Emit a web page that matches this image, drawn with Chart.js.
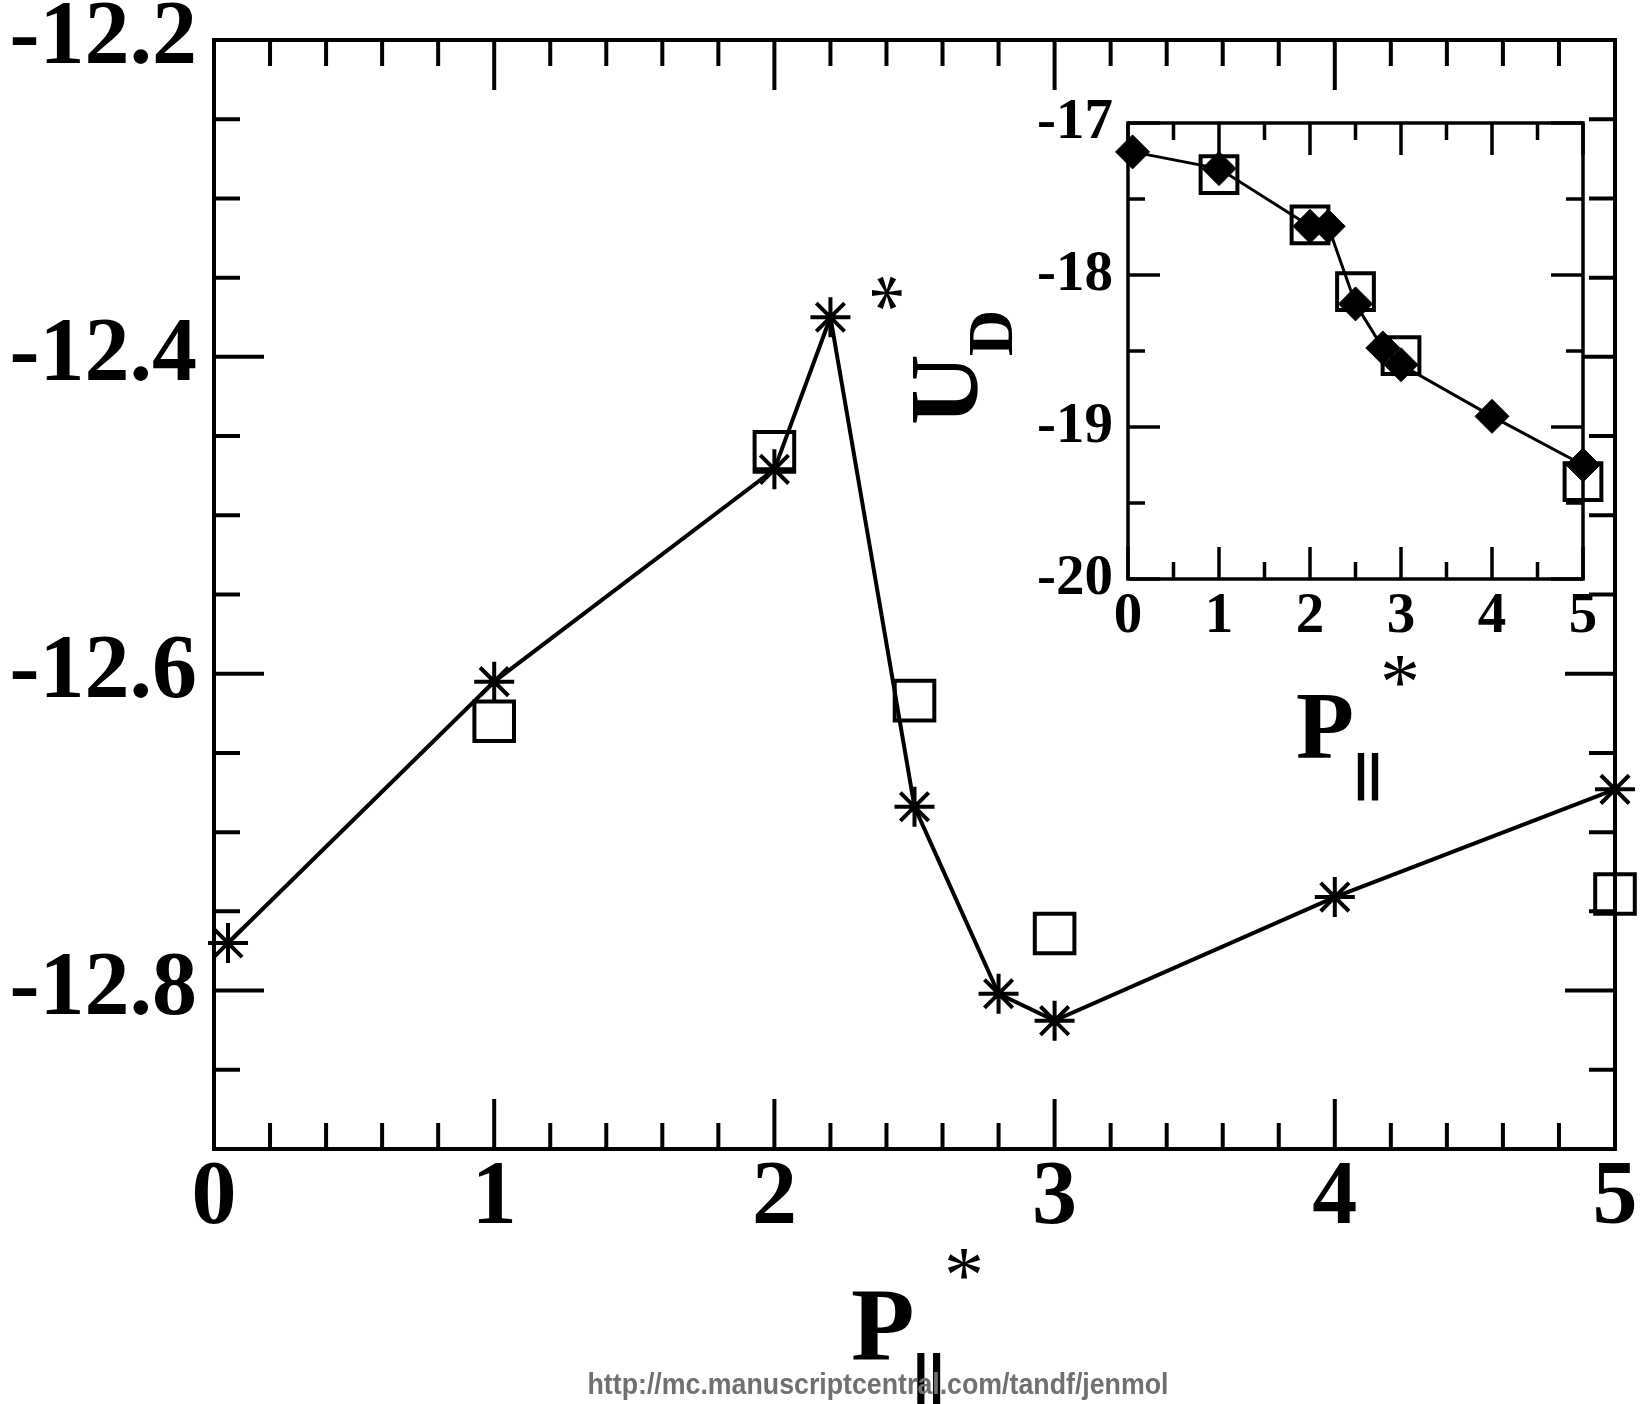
<!DOCTYPE html>
<html>
<head>
<meta charset="utf-8">
<script src="https://cdn.jsdelivr.net/npm/chart.js@4.4.0/dist/chart.umd.min.js"></script>
<style>
  html, body { margin: 0; padding: 0; background: #fff; }
  #wrap { position: relative; width: 1648px; height: 1404px; }
  canvas { position: absolute; left: 0; top: 0; }
</style>
</head>
<body>
<div id="wrap">
  <canvas id="main" width="1648" height="1404"></canvas>
  <canvas id="inset" width="1648" height="1404"></canvas>
</div>
<script>
// main panel: stars joined by a line, open squares on their own
const mainStarX = [0.05, 1, 2, 2.2, 2.5, 2.8, 3, 4, 5];
const mainStarY = [-12.770, -12.605, -12.471, -12.375, -12.684, -12.802, -12.819, -12.741, -12.673];
const mainSquareX = [1, 2, 2.5, 3, 5];
const mainSquareY = [-12.630, -12.460, -12.617, -12.764, -12.739];
const mainXTicks = [0, 1, 2, 3, 4, 5];
const mainYTicks = [-12.8, -12.6, -12.4, -12.2];

// inset: U_D, filled diamonds joined by a line, open squares
const insetDiamondX = [0.05, 1, 2, 2.2, 2.5, 2.8, 3, 4, 5];
const insetDiamondY = [-17.19, -17.30, -17.68, -17.68, -18.19, -18.48, -18.59, -18.93, -19.25];
const insetSquareX = [1, 2, 2.5, 3, 5];
const insetSquareY = [-17.34, -17.67, -18.11, -18.53, -19.36];
const insetXTicks = [0, 1, 2, 3, 4, 5];
const insetYTicks = [-20, -19, -18, -17];

const SERIF = '"Liberation Serif", "Times New Roman", serif';
const SANS = '"Liberation Sans", Arial, sans-serif';

function pts(xs, ys) {
  return xs.map((x, i) => ({x: x, y: ys[i]}));
}

function isMajor(v, step) {
  const r = v / step;
  return Math.abs(r - Math.round(r)) < 1e-6;
}

// inward ticks on all four sides + the box, like xmgrace
function frameTicks(o) {
  return {
    id: 'frameTicks',
    beforeDatasetsDraw(chart) {
      const {ctx, chartArea: a, scales: {x, y}} = chart;
      ctx.save();
      if (o.fill) {
        ctx.fillStyle = '#fff';
        ctx.fillRect(a.left, a.top, a.width, a.height);
      }
      ctx.strokeStyle = '#000';
      ctx.lineWidth = o.width;
      ctx.beginPath();
      let n = Math.round((x.max - x.min) / o.xMinor);
      for (let i = 0; i <= n; i++) {
        const v = x.min + i * o.xMinor;
        const len = isMajor(v, o.xMajor) ? o.major : o.minor;
        const px = x.getPixelForValue(v);
        ctx.moveTo(px, a.bottom); ctx.lineTo(px, a.bottom - len);
        ctx.moveTo(px, a.top); ctx.lineTo(px, a.top + len);
      }
      n = Math.round((y.max - y.min) / o.yMinor);
      for (let i = 0; i <= n; i++) {
        const v = y.min + i * o.yMinor;
        const len = isMajor(v, o.yMajor) ? o.major : o.minor;
        const py = y.getPixelForValue(v);
        ctx.moveTo(a.left, py); ctx.lineTo(a.left + len, py);
        ctx.moveTo(a.right, py); ctx.lineTo(a.right - len, py);
      }
      ctx.stroke();
      ctx.strokeRect(a.left, a.top, a.width, a.height);
      ctx.restore();
    }
  };
}

// axis titles with sub/superscripts, drawn as canvas text
const mainLabels = {
  id: 'mainLabels',
  afterDraw(chart) {
    const ctx = chart.ctx;
    ctx.save();
    ctx.fillStyle = '#000';
    ctx.textAlign = 'left';
    ctx.textBaseline = 'alphabetic';
    ctx.font = 'bold 104px ' + SERIF;
    ctx.fillText('P', 851, 1360);
    ctx.font = 'bold 56px ' + SANS;
    ctx.fillText('||', 913, 1393);
    ctx.textAlign = 'center';
    ctx.font = '80px ' + SERIF;
    ctx.fillText('*', 964, 1302);

    // footer
    const url = 'http://mc.manuscriptcentral.com/tandf/jenmol';
    ctx.font = 'bold 30px ' + SANS;
    ctx.fillStyle = '#707070';
    const w = ctx.measureText(url).width;
    ctx.translate(878, 1394);
    ctx.scale(581 / w, 1);
    ctx.fillText(url, 0, 0);
    ctx.restore();
  }
};

const insetLabels = {
  id: 'insetLabels',
  afterDraw(chart) {
    const ctx = chart.ctx;
    ctx.save();
    ctx.fillStyle = '#000';
    ctx.textBaseline = 'alphabetic';
    ctx.textAlign = 'left';
    ctx.font = 'bold 95px ' + SERIF;
    ctx.fillText('P', 1296, 758);
    ctx.font = 'bold 50px ' + SANS;
    ctx.fillText('||', 1354, 789);
    ctx.textAlign = 'center';
    ctx.font = '80px ' + SERIF;
    ctx.fillText('*', 1400, 709);
    ctx.restore();

    // rotated U_D*
    const rot = (txt, font, x, y, align) => {
      ctx.save();
      ctx.translate(x, y);
      ctx.rotate(-Math.PI / 2);
      ctx.font = font;
      ctx.textAlign = align;
      ctx.textBaseline = 'alphabetic';
      ctx.fillStyle = '#000';
      ctx.fillText(txt, 0, 0);
      ctx.restore();
    };
    rot('U', 'bold 98px ' + SERIF, 977, 425, 'left');
    rot('D', 'bold 64px ' + SERIF, 1012, 356, 'left');
    rot('*', '80px ' + SERIF, 925, 293, 'center');
  }
};

function axis(min, max, ticks, fmt, font, pad, fit) {
  return {
    type: 'linear', min: min, max: max,
    grid: {display: false, drawTicks: false},
    border: {display: false},
    afterBuildTicks: s => { s.ticks = ticks.map(v => ({value: v})); },
    afterFit: fit,
    ticks: {
      autoSkip: false, maxRotation: 0, padding: pad, color: '#000',
      font: {family: SERIF, weight: 'bold', size: font, lineHeight: 1},
      callback: fmt
    }
  };
}

new Chart(document.getElementById('main'), {
  type: 'scatter',
  data: {
    datasets: [
      {
        data: pts(mainStarX, mainStarY), showLine: true, tension: 0,
        borderColor: '#000', borderWidth: 4,
        pointStyle: 'star', pointRadius: 20, pointBorderWidth: 4,
        pointBorderColor: '#000', pointBackgroundColor: '#000', clip: false
      },
      {
        data: pts(mainSquareX, mainSquareY), showLine: false,
        pointStyle: 'rect', pointRadius: 28, pointBorderWidth: 4,
        pointBorderColor: '#000', pointBackgroundColor: 'rgba(0,0,0,0)', clip: false
      }
    ]
  },
  options: {
    responsive: false, animation: false, events: [],
    layout: {padding: {left: 0, right: 33, top: 40, bottom: 0}},
    plugins: {legend: {display: false}, tooltip: {enabled: false}},
    scales: {
      x: axis(0, 5, mainXTicks, v => String(v), 90, 6,
        s => { s.height = 255; s.paddingLeft = 0; s.paddingRight = 0; }),
      y: axis(-12.9, -12.2, mainYTicks, v => v.toFixed(1), 90, 17,
        s => { s.width = 214; s.paddingTop = 0; s.paddingBottom = 0; })
    }
  },
  plugins: [frameTicks({width: 4, major: 50, minor: 26, xMajor: 1, xMinor: 0.2, yMajor: 0.2, yMinor: 0.05}), mainLabels]
});

new Chart(document.getElementById('inset'), {
  type: 'scatter',
  data: {
    datasets: [
      {
        data: pts(insetDiamondX, insetDiamondY), showLine: true, tension: 0,
        borderColor: '#000', borderWidth: 3,
        pointStyle: 'rectRot', pointRadius: 17, pointBorderWidth: 1,
        pointBorderColor: '#000', pointBackgroundColor: '#000', clip: false
      },
      {
        data: pts(insetSquareX, insetSquareY), showLine: false,
        pointStyle: 'rect', pointRadius: 26, pointBorderWidth: 4,
        pointBorderColor: '#000', pointBackgroundColor: 'rgba(0,0,0,0)', clip: false
      }
    ]
  },
  options: {
    responsive: false, animation: false, events: [],
    layout: {padding: {left: 0, right: 65, top: 123, bottom: 0}},
    plugins: {legend: {display: false}, tooltip: {enabled: false}},
    scales: {
      x: axis(0, 5, insetXTicks, v => String(v), 57, 10,
        s => { s.height = 825; s.paddingLeft = 0; s.paddingRight = 0; }),
      y: axis(-20, -17, insetYTicks, v => String(v), 57, 15,
        s => { s.width = 1128; s.paddingTop = 0; s.paddingBottom = 0; })
    }
  },
  plugins: [frameTicks({fill: true, width: 3.5, major: 32, minor: 17, xMajor: 1, xMinor: 0.5, yMajor: 1, yMinor: 0.5}), insetLabels]
});
</script>
</body>
</html>
